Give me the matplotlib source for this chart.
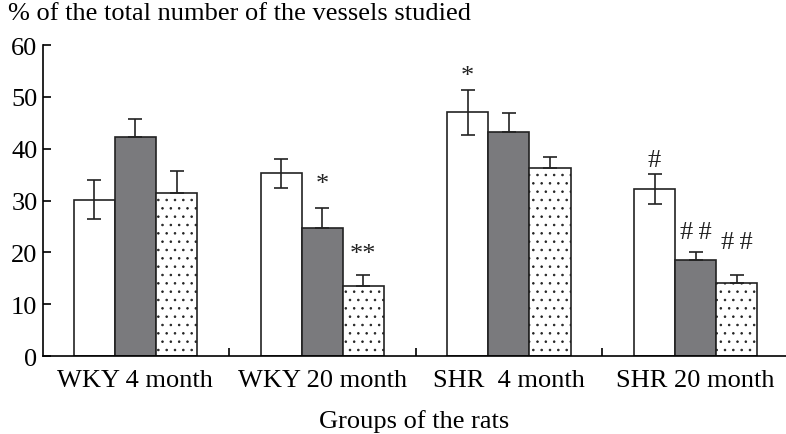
import numpy as np
import matplotlib.pyplot as plt

plt.rcParams['font.family'] = ['Liberation Serif', 'DejaVu Serif']
plt.rcParams['hatch.linewidth'] = 0.6
plt.rcParams['hatch.color'] = '#333333'

# data
groups = ['WKY 4 month', 'WKY 20 month', 'SHR  4 month', 'SHR 20 month']
white_vals = [30.2, 35.3, 47.0, 32.2]
white_err = [3.7, 2.8, 4.4, 2.9]
dark_vals = [42.2, 24.8, 43.2, 18.5]
dark_err = [3.6, 3.8, 3.7, 1.5]
dot_vals = [31.5, 13.5, 36.3, 14.1]
dot_err = [4.2, 2.2, 2.1, 1.6]
# significance marks: (group, series, text, y)
marks = [(1, 1, '*', 33.3), (1, 2, '**', 19.7), (2, 0, '*', 54.0),
         (3, 0, '#', 37.8), (3, 1, '#\u2009#', 23.9), (3, 2, '#\u2009#', 22.1)]

fig = plt.figure(figsize=(7.86, 4.35), dpi=100)
ax = fig.add_axes([0.0547, 0.179, 0.9453, 0.715])

x = np.arange(len(groups))
w = 0.22
offsets = [-w, 0, w]
ekw = dict(elinewidth=1.2, capthick=1.2, capsize=5, ecolor='#222222')

ax.bar(x - w, white_vals, w, color='white', edgecolor='#222222', linewidth=1.2, zorder=2)
ax.errorbar(x - w, white_vals, yerr=white_err, fmt='none', zorder=3, **ekw)

ax.bar(x, dark_vals, w, color='#7a7a7d', edgecolor='#222222', linewidth=1.2, zorder=2)
ax.errorbar(x, dark_vals, yerr=[np.zeros(4), dark_err], fmt='none', zorder=3, **ekw)

ax.bar(x + w, dot_vals, w, color='white', edgecolor='#222222', linewidth=1.2,
       hatch='..', zorder=2)
ax.errorbar(x + w, dot_vals, yerr=[np.zeros(4), dot_err], fmt='none', zorder=3, **ekw)

for g, s, txt, yv in marks:
    ax.text(x[g] + offsets[s], yv, txt, ha='center', va='center', fontsize=19,
            color='#222222')

ax.set_xlim(-0.495, 3.484)
ax.set_ylim(0, 60)
ax.set_yticks(range(0, 61, 10))
ax.set_xticks(x)
ax.set_xticklabels(groups)
ax.set_xticks([0.5, 1.5, 2.5], minor=True)
ax.tick_params(axis='x', which='major', length=0, labelsize=19, pad=9)
ax.tick_params(axis='x', which='minor', direction='in', length=6, width=1.2)
ax.tick_params(axis='y', direction='in', length=6, width=1.2, labelsize=19, pad=4)

for side in ['top', 'right']:
    ax.spines[side].set_visible(False)
for side in ['left', 'bottom']:
    ax.spines[side].set_linewidth(1.2)

ax.set_xlabel('Groups of the rats', fontsize=19, labelpad=13.5)
fig.text(0.01, 0.968, '% of the total number of the vessels studied', fontsize=19,
         va='center', ha='left')

fig.savefig('out.png', dpi=100)
